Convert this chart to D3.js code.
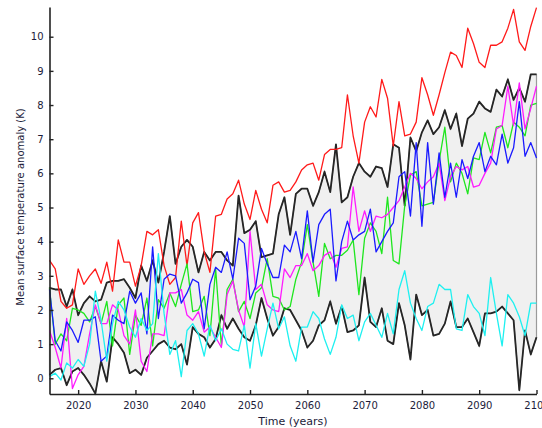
<!DOCTYPE html>
<html>
<head>
<meta charset="utf-8">
<script src="https://cdn.jsdelivr.net/npm/d3@7"></script>
<style>
  html, body { margin: 0; padding: 0; background: #fff; }
  svg { display: block; }
  .tick text { font-family: "DejaVu Sans", Verdana, sans-serif; font-size: 10px; fill: #1c1c3a; }
</style>
</head>
<body>
<svg id="chart" width="542" height="428"></svg>
<script>
// Annual mean surface temperature anomaly projections (K), 2015-2100
const years = d3.range(2015, 2101);
const xTicks = [2020, 2030, 2040, 2050, 2060, 2070, 2080, 2090, 2100];
const yTicks = [0, 1, 2, 3, 4, 5, 6, 7, 8, 9, 10];

// Envelope bounds (black)
const upperBound = [
  2.65, 2.6, 2.6, 2.1, 2.6, 1.85, 2.2, 2.4, 2.25, 2.3,
  2.8, 2.85, 2.85, 2.9, 2.65, 2.35, 3.3, 2.85, 3.45, 2.8,
  3.7, 4.75, 3.35, 3.85, 4.05, 3.85, 3.1, 3.7, 3.45, 3.7,
  3.7, 3.45, 3.3, 5.35, 4.25, 4.35, 4.6, 3.55, 3.6, 3.65,
  4.8, 5.3, 4.2, 5.4, 5.55, 5.55, 5.05, 5.45, 6.05, 5.45,
  6.85, 5.15, 5.3, 5.9, 6.3, 6.05, 5.9, 6.2, 6.15, 5.6,
  6.85, 6.75, 5.05, 7.05, 6.65, 7.2, 7.55, 7.15, 7.35, 7.85,
  7.3, 7.75, 6.8, 7.6, 7.75, 8.1, 7.9, 7.8, 8.45, 8.25,
  8.75, 8.15, 8.5, 8.1, 8.9, 8.9
];
const lowerBound = [
  0.1, 0.25, 0.3, -0.2, 0.2, 0.3, 0.1, -0.15, -0.45, 0.5,
  -0.1, 1.2, 1.0, 0.75, 0.15, 0.25, 0.1, 0.6, 0.8, 1.0,
  1.1, 0.9, 0.85, 1.0, 0.4, 1.5, 1.3, 1.2, 0.9, 1.15,
  1.85, 1.45, 1.75, 1.45, 1.2, 1.1, 1.55, 2.35, 1.75, 1.25,
  1.5, 2.05, 2.0, 1.7, 1.4, 0.9, 1.1, 1.55, 1.7, 2.25,
  1.6, 2.1, 1.35, 1.4, 1.55, 2.95, 1.65, 1.5, 2.05, 1.1,
  1.0, 2.2, 1.55, 0.55, 2.45, 1.85, 2.0, 1.25, 1.3, 1.6,
  2.25, 1.5, 1.5, 1.75, 1.35, 0.95, 1.9, 1.9, 1.95, 2.1,
  1.9, 1.7, -0.35, 1.4, 0.7, 1.2
];

// Individual model runs
const redRun = [
  3.45, 3.2, 2.25, 2.05, 2.15, 3.2, 2.75, 3.0, 3.2, 2.78,
  3.4, 2.55, 4.05, 3.4, 3.4, 2.7, 3.3, 4.3, 4.2, 4.35,
  3.3, 2.75, 2.95, 4.6, 3.3, 4.55, 4.85, 3.7, 3.1, 4.75,
  4.8, 5.25, 5.4, 5.8, 5.1, 4.65, 5.5, 4.95, 4.55, 5.65,
  5.75, 5.45, 5.5, 5.75, 6.1, 6.25, 6.3, 5.8, 6.55, 6.7,
  6.7, 6.75, 8.3, 7.1, 6.3, 7.5, 7.95, 7.65, 8.75, 8.2,
  6.8, 8.1, 7.1, 7.15, 7.5, 8.8, 8.3, 7.7, 8.3, 8.95,
  9.55, 9.45, 9.1, 10.25, 9.8, 9.25, 9.1, 9.75, 9.75, 9.85,
  10.25, 10.8, 9.85, 9.6, 10.3, 10.85
];
const greenRun = [
  2.65, 1.0, 1.3, 1.1, 2.05, 2.0, 1.9, 1.65, 2.1, 1.6,
  2.25, 0.95, 2.15, 2.35, 0.7, 1.85, 1.55, 2.35, 0.95, 2.3,
  2.05, 2.5, 2.1, 2.75, 3.35, 1.95, 2.0, 2.4, 1.25, 3.2,
  0.95, 2.6, 2.9, 1.95, 2.25, 1.75, 2.5, 2.65, 3.5, 2.4,
  2.35, 2.0, 2.1, 2.9, 3.4, 4.5, 3.4, 2.4, 3.95, 3.5,
  3.6, 3.6, 3.75, 4.05, 2.45, 4.1, 4.55, 4.3, 3.65, 5.3,
  3.45, 3.35, 5.05, 5.95, 6.05, 5.05, 5.1, 5.15, 6.35, 7.35,
  5.75, 6.3, 6.0, 5.4, 6.45, 6.4, 7.2, 6.6, 7.35, 7.4,
  6.75, 7.5, 7.35, 7.1, 8.0, 8.05
];
const magentaRun = [
  1.4, 0.9, 0.3, 1.75, -0.3, 0.1, 0.35, 1.3, 2.15, 1.6,
  1.6, 2.15, 2.0, 1.25, 1.0, 2.0, 0.5, 0.2, 1.3, 1.3,
  1.25, 2.5, 2.5, 2.6, 1.85, 1.7, 1.95, 1.35, 1.5, 1.2,
  0.9, 2.45, 2.85, 2.0, 1.5, 4.3, 2.6, 2.75, 2.15, 2.0,
  1.95, 3.2, 2.95, 3.3, 3.3, 3.65, 3.15, 3.3, 3.6, 3.7,
  3.25, 3.8, 3.85, 5.6, 4.3, 4.9, 4.3, 4.75, 4.7, 4.8,
  5.0, 5.2, 5.6, 6.0, 5.85, 5.55, 5.75, 5.9, 6.3, 5.2,
  5.9, 6.2, 6.1, 6.2, 5.6, 5.65, 6.0, 6.3, 7.3, 7.4,
  8.55, 7.4, 8.65, 7.3, 7.9, 8.55
];
const blueRun = [
  2.6, 1.1, 0.8, 1.65, 1.4, 1.05, 1.7, 1.7, 1.8, 0.5,
  0.65, 1.85, 1.7, 1.6, 2.55, 2.2, 2.5, 1.3, 3.85, 1.75,
  2.9, 3.05, 3.0, 2.2, 2.5, 2.9, 2.8, 1.45, 2.75, 3.25,
  3.1, 3.7, 2.9, 4.1, 3.95, 2.3, 2.7, 3.8, 3.35, 2.95,
  2.95, 3.9, 3.7, 4.3, 3.5, 4.9, 3.4, 4.5, 4.8, 4.95,
  2.85, 4.0, 4.6, 4.05, 4.2, 4.3, 4.95, 3.7, 4.0, 4.3,
  4.55, 5.9, 6.05, 4.75, 6.9, 4.45, 6.9, 5.1, 6.6, 5.3,
  6.3, 5.3, 6.4, 5.85, 6.5, 6.9, 6.05, 6.5, 6.25, 7.15,
  6.3, 6.75, 8.1, 6.5, 6.9, 6.45
];
const cyanRun = [
  0.05, 0.15, -0.05, 0.45, 0.3, 0.55, 0.35, 1.0, 2.55, 1.7,
  0.5, 1.6, 2.25, 2.0, 1.5, 1.2, 1.75, 1.4, 1.6, 3.65,
  1.9, 0.7, 1.1, 0.05, 1.4, 1.6, 1.3, 0.65, 1.55, 1.1,
  1.45, 1.0, 0.85, 0.8, 1.55, 0.3, 1.6, 0.65, 1.45, 2.2,
  1.45, 1.8, 0.95, 0.5, 1.5, 1.5, 1.95, 1.75, 1.15, 0.7,
  1.2, 2.15, 1.75, 1.85, 1.1, 1.65, 1.9, 1.55, 1.2, 1.9,
  1.3, 2.6, 3.15, 2.2, 1.75, 1.4, 2.1, 2.2, 2.75, 2.6,
  2.6, 1.45, 1.4, 2.45, 2.1, 1.9, 1.25, 2.95, 1.9, 0.95,
  2.45, 2.2, 1.8, 1.25, 2.2, 2.2
];

const runs = [
  { values: redRun, color: "#ff1a1a" },
  { values: greenRun, color: "#1ee61e" },
  { values: magentaRun, color: "#ff1aff" },
  { values: blueRun, color: "#1a1aff" },
  { values: cyanRun, color: "#1ef0f0" }
];

const svg = d3.select("#chart");
const x = d3.scaleLinear().domain([2015, 2100]).range([49.5, 536.5]);
const y = d3.scaleLinear().domain([-0.46, 10.87]).range([394, 7]);

// Shaded envelope between the lower and upper bound
const band = years.map((yr, i) => ({ yr, lo: lowerBound[i], hi: upperBound[i] }));
svg.append("path")
  .datum(band)
  .attr("d", d3.area().x(d => x(d.yr)).y0(d => y(d.lo)).y1(d => y(d.hi)))
  .attr("fill", "#f0f0f0")
  .attr("stroke", "#9a9a9a")
  .attr("stroke-width", 1.2);

const line = d3.line().x((d, i) => x(years[i])).y(d => y(d));

// Bounding runs
[upperBound, lowerBound].forEach(vals => {
  svg.append("path")
    .datum(vals)
    .attr("d", line)
    .attr("fill", "none")
    .attr("stroke", "#262626")
    .attr("stroke-width", 1.8)
    .attr("stroke-linejoin", "round");
});

// Coloured runs
runs.forEach(r => {
  svg.append("path")
    .datum(r.values)
    .attr("d", line)
    .attr("fill", "none")
    .attr("stroke", r.color)
    .attr("stroke-width", 1.3)
    .attr("stroke-linejoin", "round");
});

// Axes with inward ticks
const xAxis = svg.append("g")
  .attr("transform", "translate(0,394)")
  .call(d3.axisBottom(x).tickValues(xTicks).tickFormat(d3.format("d"))
    .tickSize(-4).tickSizeOuter(0).tickPadding(8));
const yAxis = svg.append("g")
  .attr("transform", "translate(49.5,0)")
  .call(d3.axisLeft(y).tickValues(yTicks).tickFormat(d3.format("d"))
    .tickSize(-4).tickSizeOuter(0).tickPadding(6));
[xAxis, yAxis].forEach(g => {
  g.select(".domain").attr("stroke", "#222").attr("stroke-width", 1.6);
  g.selectAll(".tick line").attr("stroke", "#222").attr("stroke-width", 1.4);
});

svg.append("text")
  .attr("x", 293).attr("y", 425)
  .attr("text-anchor", "middle")
  .style("font-family", "'DejaVu Sans', Verdana, sans-serif")
  .style("font-size", "11px")
  .attr("fill", "#1c1c3a")
  .text("Time (years)");

svg.append("text")
  .attr("transform", "translate(24,207) rotate(-90)")
  .attr("text-anchor", "middle")
  .style("font-family", "'DejaVu Sans', Verdana, sans-serif")
  .style("font-size", "10px")
  .attr("fill", "#1c1c3a")
  .text("Mean surface temperature anomaly (K)");
</script>
</body>
</html>
